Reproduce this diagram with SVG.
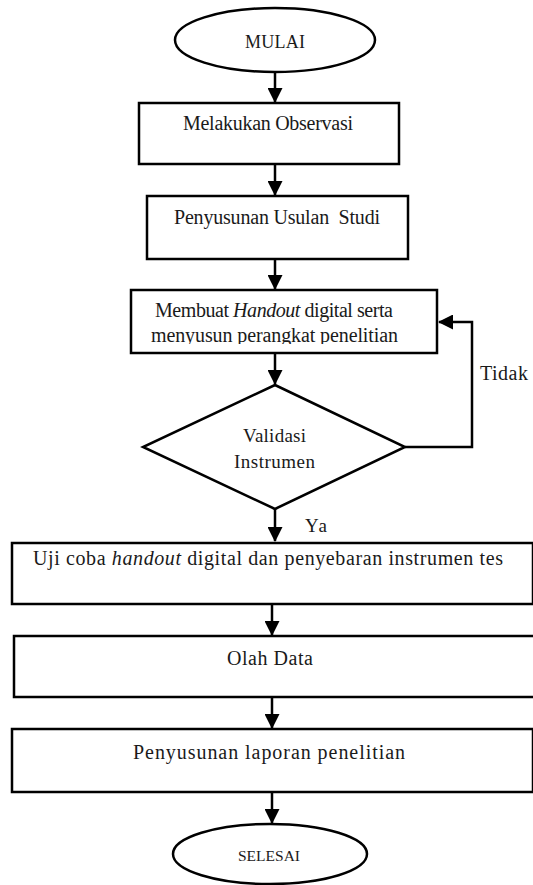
<svg xmlns="http://www.w3.org/2000/svg" width="533" height="885" viewBox="0 0 533 885">
<style>
.s{fill:#fff;stroke:#000;stroke-width:2.5}
.t{font-family:"Liberation Serif","Times New Roman",serif;font-size:20px;fill:#1a1a1a;text-anchor:middle}
.c{fill:none;stroke:#000;stroke-width:2.5}
</style>
<defs>
<marker id="ah" markerWidth="6" markerHeight="6" refX="5.6" refY="3" orient="auto" markerUnits="strokeWidth" viewBox="0 0 6 6">
<path d="M0,0 L6,3 L0,6 z" fill="#000"/>
</marker>
<clipPath id="clip3"><rect x="130" y="290" width="308" height="54"/></clipPath>
</defs>
<g id="connectors">
<line class="c" x1="275" y1="72" x2="275" y2="102" marker-end="url(#ah)"/>
<line class="c" x1="275" y1="164" x2="275" y2="195" marker-end="url(#ah)"/>
<line class="c" x1="275" y1="259" x2="275" y2="289" marker-end="url(#ah)"/>
<line class="c" x1="275" y1="353" x2="275" y2="384" marker-end="url(#ah)"/>
<polyline class="c" points="405,447 472,447 472,322 439,322" marker-end="url(#ah)"/>
<line class="c" x1="275" y1="509" x2="275" y2="541" marker-end="url(#ah)"/>
<line class="c" x1="272" y1="604" x2="272" y2="635" marker-end="url(#ah)"/>
<line class="c" x1="272" y1="697" x2="272" y2="728" marker-end="url(#ah)"/>
<line class="c" x1="272" y1="792" x2="272" y2="823" marker-end="url(#ah)"/>
<text class="t" x="480" y="380" style="text-anchor:start" textLength="48">Tidak</text>
<text class="t" x="305" y="532" style="text-anchor:start;font-size:19px" textLength="22">Ya</text>
</g>
<g id="mulai">
<ellipse class="s" cx="275" cy="40" rx="100" ry="32"/>
<text class="t" x="275" y="48" style="font-size:18px" textLength="60">MULAI</text>
</g>
<g id="observasi">
<rect class="s" x="139" y="103" width="260" height="61"/>
<text class="t" x="268" y="130" textLength="170">Melakukan Observasi</text>
</g>
<g id="usulan">
<rect class="s" x="147" y="196" width="261" height="63"/>
<text class="t" x="277" y="224" xml:space="preserve" textLength="206">Penyusunan Usulan  Studi</text>
</g>
<g id="handout">
<rect class="s" x="131" y="290" width="306" height="63"/>
<g clip-path="url(#clip3)">
<text class="t" x="274" y="317" textLength="238">Membuat <tspan font-style="italic">Handout</tspan> digital serta</text>
<text class="t" x="274.5" y="342" textLength="247">menyusun perangkat penelitian</text>
</g>
</g>
<g id="validasi">
<polygon class="s" points="275,385 405,447 275,509 143,447"/>
<text class="t" x="274.5" y="442" style="font-size:19px" textLength="63">Validasi</text>
<text class="t" x="274.5" y="468" style="font-size:19px" textLength="81">Instrumen</text>
</g>
<g id="ujicoba">
<rect class="s" x="12" y="543" width="521" height="61"/>
<text class="t" x="268" y="565" textLength="470">Uji coba <tspan font-style="italic">handout</tspan> digital dan penyebaran instrumen tes</text>
</g>
<g id="olahdata">
<rect class="s" x="14" y="636" width="521" height="61"/>
<text class="t" x="270" y="665" textLength="86">Olah Data</text>
</g>
<g id="laporan">
<rect class="s" x="12" y="729" width="521" height="63"/>
<text class="t" x="269" y="759" textLength="272">Penyusunan laporan penelitian</text>
</g>
<g id="selesai">
<ellipse class="s" cx="270" cy="854" rx="97" ry="30"/>
<text class="t" x="269" y="861" style="font-size:15.5px">SELESAI</text>
</g>
</svg>
